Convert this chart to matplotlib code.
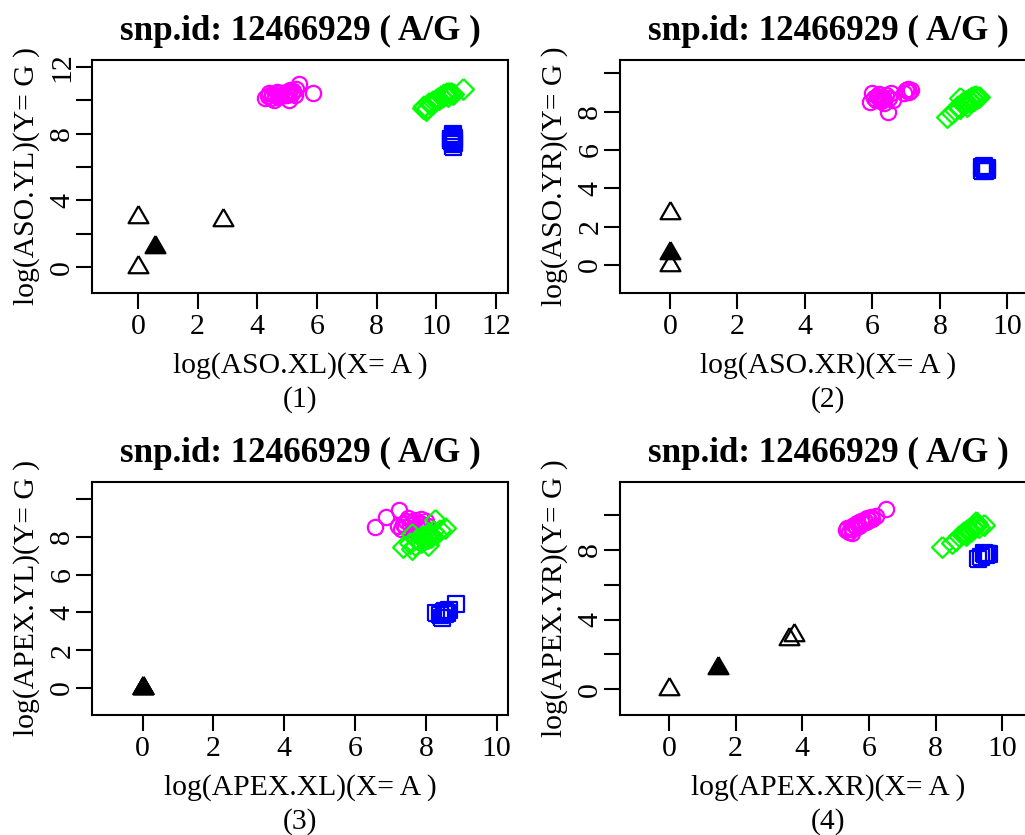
import matplotlib
matplotlib.use("Agg")
import matplotlib.pyplot as plt

plt.rcParams['font.family'] = ['Liberation Serif', 'DejaVu Serif']

# ---------------- data ----------------
title_text = "snp.id: 12466929 ( A/G )"
xlabels = ["log(ASO.XL)(X= A )", "log(ASO.XR)(X= A )",
           "log(APEX.XL)(X= A )", "log(APEX.XR)(X= A )"]
ylabels = ["log(ASO.YL)(Y= G )", "log(ASO.YR)(Y= G )",
           "log(APEX.YL)(Y= G )", "log(APEX.YR)(Y= G )"]
panel_tags = ["(1)", "(2)", "(3)", "(4)"]

# panel 1 : ASO left
p1_het_x = [4.25, 4.35, 4.45, 4.5, 4.55, 4.6, 4.7, 4.75, 4.8, 4.9, 4.95, 5.0, 5.05, 5.07, 5.1, 5.15, 5.2, 5.25, 5.3, 5.41, 5.86, 4.4, 4.65]
p1_het_y = [10.1, 10.25, 10.15, 10.35, 10.0, 10.3, 10.2, 10.4, 10.25, 10.35, 10.5, 10.3, 10.45, 10.0, 10.6, 10.4, 10.55, 10.3, 10.65, 10.96, 10.4, 10.45, 10.5]
p1_aa_x = [9.55, 9.6, 9.7, 9.75, 9.85, 9.9, 10.0, 10.05, 10.1, 10.15, 10.2, 10.25, 10.3, 10.35, 10.4, 10.45, 10.5, 10.55, 10.9, 9.65]
p1_aa_y = [9.5, 9.65, 9.55, 9.8, 9.75, 9.95, 10.0, 10.15, 10.05, 10.25, 10.2, 10.35, 10.3, 10.4, 10.25, 10.45, 10.4, 10.35, 10.66, 9.4]
p1_bb_x = [10.55, 10.55, 10.5, 10.6, 10.5, 10.6, 10.55, 10.55, 10.5, 10.6, 10.55]
p1_bb_y = [8.0, 7.85, 7.7, 7.6, 7.55, 7.45, 7.35, 7.2, 7.65, 7.75, 7.5]
p1_nc_x = [0.0, 0.0, 2.84]
p1_nc_y = [0.0, 3.0, 2.82]
p1_fl_x = [0.57]
p1_fl_y = [1.22]

# panel 2 : ASO right
p2_het_x = [5.93, 6.0, 6.05, 6.1, 6.15, 6.2, 6.25, 6.3, 6.35, 6.4, 6.45, 6.5, 6.55, 6.6, 6.35, 6.95, 7.0, 7.05, 7.1, 7.15, 6.2]
p2_het_y = [8.5, 8.95, 8.7, 8.6, 8.8, 8.7, 8.55, 8.75, 8.65, 8.85, 8.0, 8.7, 8.95, 8.6, 8.45, 8.95, 9.1, 9.2, 9.0, 9.15, 8.9]
p2_aa_x = [8.2, 8.35, 8.45, 8.55, 8.6, 8.65, 8.7, 8.75, 8.8, 8.85, 8.9, 8.95, 9.0, 9.05, 9.1, 9.15, 8.6, 8.8]
p2_aa_y = [7.7, 7.95, 8.1, 8.3, 8.2, 8.45, 8.4, 8.55, 8.5, 8.65, 8.55, 8.75, 8.6, 8.8, 8.7, 8.75, 8.7, 8.3]
p2_bb_x = [9.25, 9.3, 9.35, 9.4, 9.3, 9.35, 9.25, 9.4]
p2_bb_y = [5.1, 5.0, 4.9, 5.05, 5.15, 4.95, 4.9, 4.95]
p2_nc_x = [0.0, 0.0]
p2_nc_y = [0.0, 2.72]
p2_fl_x = [0.0]
p2_fl_y = [0.62]

# panel 3 : APEX left
p3_het_x = [6.56, 6.87, 7.25, 7.2, 7.35, 7.4, 7.45, 7.5, 7.55, 7.6, 7.7, 7.75, 7.8, 7.85, 7.9, 8.0, 8.05, 7.65, 7.3]
p3_het_y = [8.55, 9.05, 9.45, 8.6, 8.7, 8.55, 8.85, 9.0, 8.65, 8.8, 8.9, 8.6, 8.75, 8.95, 8.7, 8.85, 8.6, 8.4, 8.45]
p3_aa_x = [7.35, 7.6, 7.55, 7.7, 7.75, 7.85, 7.9, 7.95, 8.0, 8.05, 8.1, 8.15, 8.2, 8.25, 8.3, 8.4, 8.55, 7.6, 8.05]
p3_aa_y = [7.45, 7.35, 7.7, 7.6, 7.9, 7.75, 8.05, 7.85, 8.1, 7.95, 8.2, 8.0, 8.3, 8.9, 8.15, 8.35, 8.5, 8.15, 7.6]
p3_bb_x = [8.3, 8.45, 8.5, 8.55, 8.6, 8.65, 8.85, 8.4, 8.55]
p3_bb_y = [3.95, 3.7, 4.0, 4.1, 3.95, 4.15, 4.45, 3.85, 3.9]
p3_nc_x = [0.0, 0.0]
p3_nc_y = [0.0, 0.0]
p3_fl_x = [0.0]
p3_fl_y = [0.0]

# panel 4 : APEX right
p4_het_x = [5.3, 5.4, 5.45, 5.5, 5.55, 5.6, 5.65, 5.7, 5.75, 5.8, 5.85, 5.9, 5.95, 6.0, 6.05, 6.1, 6.2, 6.5, 5.5, 5.35]
p4_het_y = [9.15, 9.05, 9.3, 9.2, 9.45, 9.35, 9.55, 9.4, 9.65, 9.55, 9.75, 9.6, 9.85, 9.7, 9.9, 9.8, 9.95, 10.35, 9.0, 9.25]
p4_aa_x = [8.2, 8.5, 8.6, 8.7, 8.8, 8.85, 8.9, 8.95, 9.0, 9.05, 9.1, 9.15, 9.2, 9.25, 9.3, 9.45, 9.2, 8.9]
p4_aa_y = [8.15, 8.4, 8.55, 8.8, 8.9, 9.05, 9.0, 9.15, 9.2, 9.1, 9.3, 9.25, 9.4, 9.5, 9.35, 9.45, 9.6, 8.85]
p4_bb_x = [9.28, 9.35, 9.45, 9.5, 9.55, 9.5, 9.55, 9.6, 9.45]
p4_bb_y = [7.5, 7.6, 7.75, 7.8, 7.8, 7.7, 7.75, 7.8, 7.85]
p4_nc_x = [0.0, 3.6, 3.74]
p4_nc_y = [0.0, 2.91, 3.1]
p4_fl_x = [1.47]
p4_fl_y = [1.21]

xlims = [(-1.54, 12.40), (-1.48, 10.85), (-1.43, 10.32), (-1.47, 11.01)]
ylims = [(-1.54, 12.40), (-1.46, 10.69), (-1.44, 10.92), (-1.48, 11.91)]
xticks = [[0, 2, 4, 6, 8, 10, 12], [0, 2, 4, 6, 8, 10], [0, 2, 4, 6, 8, 10], [0, 2, 4, 6, 8, 10]]
yticks = [[0, 2, 4, 6, 8, 10, 12], [0, 2, 4, 6, 8, 10], [0, 2, 4, 6, 8, 10], [0, 2, 4, 6, 8, 10]]
yticklabels = [["0", "", "4", "", "8", "", "12"],
               ["0", "2", "4", "6", "8", ""],
               ["0", "2", "4", "6", "8", ""],
               ["0", "", "4", "", "8", ""]]

panels = [
    (p1_het_x, p1_het_y, p1_aa_x, p1_aa_y, p1_bb_x, p1_bb_y, p1_nc_x, p1_nc_y, p1_fl_x, p1_fl_y),
    (p2_het_x, p2_het_y, p2_aa_x, p2_aa_y, p2_bb_x, p2_bb_y, p2_nc_x, p2_nc_y, p2_fl_x, p2_fl_y),
    (p3_het_x, p3_het_y, p3_aa_x, p3_aa_y, p3_bb_x, p3_bb_y, p3_nc_x, p3_nc_y, p3_fl_x, p3_fl_y),
    (p4_het_x, p4_het_y, p4_aa_x, p4_aa_y, p4_bb_x, p4_bb_y, p4_nc_x, p4_nc_y, p4_fl_x, p4_fl_y),
]

# ---------------- layout ----------------
W, H = 1025, 835
fig = plt.figure(figsize=(W / 100, H / 100), dpi=100)
fig.patch.set_facecolor('white')

BOX_L, BOX_R, BOX_T, BOX_B = 92, 508, 60, 293
DX, DY = 528, 422

TRI = [(0, 1.5551), (1.3468, -0.7776), (-1.3468, -0.7776), (0, 1.5551)]
DIA = [(0, 1), (1, 0), (0, -1), (-1, 0), (0, 1)]
SQ = [(-1, -1), (1, -1), (1, 1), (-1, 1), (-1, -1)]

TITLE_FS = 25.2
LAB_FS = 21.3
TICK_FS = 21.5
MEW = 1.6


def fx(px):
    return px / W


def fy(py):
    return 1 - py / H


for i in range(4):
    col, row = i % 2, i // 2
    ox, oy = col * DX, row * DY
    l, r, t, b = BOX_L + ox, BOX_R + ox, BOX_T + oy, BOX_B + oy
    ax = fig.add_axes([fx(l), fy(b), (r - l) / W, (b - t) / H])
    hx, hy, ax_, ay_, bx, by, nx, ny, flx, fly = panels[i]

    ax.plot(hx, hy, linestyle='none', marker='o', markersize=11,
            mfc='none', mec='#FF00FF', mew=MEW)
    ax.plot(ax_, ay_, linestyle='none', marker=DIA, markersize=15,
            mfc='none', mec='#00FF00', mew=MEW)
    ax.plot(bx, by, linestyle='none', marker=SQ, markersize=11,
            mfc='none', mec='#0000FF', mew=MEW)
    ax.plot(flx, fly, linestyle='none', marker=TRI, markersize=16.5,
            mfc='black', mec='black', mew=MEW)
    ax.plot(nx, ny, linestyle='none', marker=TRI, markersize=16.5,
            mfc='none', mec='black', mew=MEW)

    ax.set_xlim(*xlims[i])
    ax.set_ylim(*ylims[i])
    ax.set_xticks(xticks[i])
    ax.set_xticklabels([str(v) for v in xticks[i]], fontsize=TICK_FS)
    ax.set_yticks(yticks[i])
    ax.set_yticklabels(yticklabels[i], fontsize=TICK_FS, rotation=90,
                       va='center')
    ax.tick_params(direction='out', length=11.5, width=1.5, color='black')
    ax.tick_params(axis='x', pad=3.5)
    ax.tick_params(axis='y', pad=0.5)
    for s in ax.spines.values():
        s.set_linewidth(1.5)
        s.set_color('black')

    cx = (l + r) / 2
    cy = (t + b) / 2
    fig.text(fx(cx), fy(40 + oy), title_text, fontsize=TITLE_FS,
             fontweight='bold', ha='center', va='baseline')
    fig.text(fx(cx), fy(373 + oy), xlabels[i], fontsize=LAB_FS,
             ha='center', va='baseline')
    fig.text(fx(cx), fy(407 + oy), panel_tags[i], fontsize=LAB_FS,
             ha='center', va='baseline')
    fig.text(fx(33.3 + ox), fy(cy), ylabels[i], fontsize=LAB_FS,
             rotation=90, rotation_mode='anchor', ha='center', va='baseline')

fig.savefig('out.png', dpi=100, facecolor='white')
